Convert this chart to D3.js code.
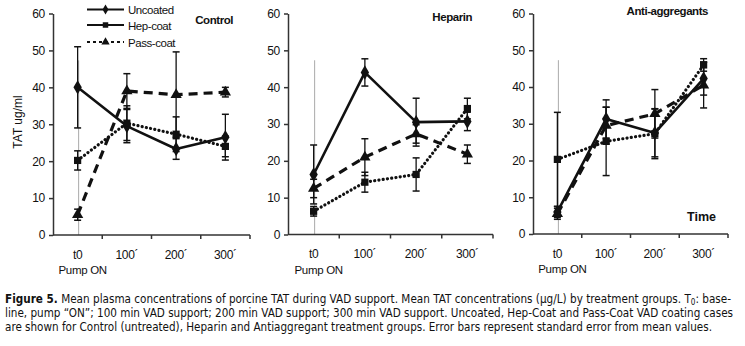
<!DOCTYPE html>
<html>
<head>
<meta charset="utf-8">
<script src="https://cdn.jsdelivr.net/npm/d3@7"></script>
<style>
  body { margin: 0; background: #fff; }
  text { font-family: "Liberation Sans", Arial, sans-serif; fill: #111; }
  .caption text { font-family: "DejaVu Sans Condensed", "DejaVu Sans", sans-serif; font-size: 11.5px; }
  .axis path, .axis line { stroke: #333; stroke-width: 1.5; }
  .axis text { font-size: 12px; font-family: "Liberation Sans", Arial, sans-serif; letter-spacing: -0.3px; }
  .tight { letter-spacing: -0.45px; }
</style>
</head>
<body>
<script>
// categories / labels
const categories = ["t0", "100´", "200´", "300´"]
const seriesNames = ["Uncoated", "Hep-coat", "Pass-coat"]
const panelTitles = ["Control", "Heparin", "Anti-aggregants"]
const yTicks = [0, 10, 20, 30, 40, 50, 60]

// mean values (TAT ug/ml)
const controlUncoated = [40, 29.5, 23.3, 26.5]
const controlUncoatedErr = [11, 4.5, 2.8, 6.2]
const controlHep = [20.2, 30.3, 27.3, 24]
const controlHepErr = [2.6, 4.7, 4.7, 2.8]
const controlPass = [5.5, 39, 38, 38.7]
const controlPassErr = [1.5, 4.7, 11.6, 1.3]

const heparinUncoated = [16.3, 44, 30.5, 30.7]
const heparinUncoatedErr = [8, 3.7, 6.5, 2.5]
const heparinHep = [6.3, 14.2, 16.3, 34.2]
const heparinHepErr = [1.3, 2.7, 4.5, 2.8]
const heparinPass = [12.5, 21, 27.3, 21.8]
const heparinPassErr = [2.5, 5, 2.5, 2.5]

const antiUncoated = [6, 31.3, 27.5, 42.3]
const antiUncoatedErr = [1.5, 5.2, 6.5, 4.5]
const antiHep = [20.3, 25.2, 27.3, 46]
const antiHepErr = [12.8, 9.3, 6.8, 1.7]
const antiPass = [5.5, 29.5, 32.7, 40.5]
const antiPassErr = [1.5, 5, 6.6, 6.2]

const captionLines = [
  ["Figure 5.", " Mean plasma concentrations of porcine TAT during VAD support. Mean TAT concentrations (µg/L) by treatment groups. T", "0", ": base-"],
  ["", "line, pump “ON”; 100 min VAD support; 200 min VAD support; 300 min VAD support. Uncoated, Hep-Coat and Pass-Coat VAD coating cases"],
  ["", "are shown for Control (untreated), Heparin and Antiaggregant treatment groups. Error bars represent standard error from mean values."]
]

let w = 745, h = 346
let svg = d3.select("body").append("svg").attr("width", w).attr("height", h)

// style per series
let styles = [
  { dash: null, width: 2.6, cap: "butt", symbol: d3.symbolDiamond, size: 60 },
  { dash: "0.1,4.2", width: 3.2, cap: "round", symbol: d3.symbolSquare, size: 52 },
  { dash: "9,6", width: 3.2, cap: "butt", symbol: d3.symbolTriangle, size: 55 }
]

let panels = [
  { x0: 53, x1: 250, yAxis: 235, title: panelTitles[0], tx: 233, ty: 24,
    series: [[controlUncoated, controlUncoatedErr], [controlHep, controlHepErr], [controlPass, controlPassErr]] },
  { x0: 288, x1: 493, yAxis: 234.5, title: panelTitles[1], tx: 472, ty: 21,
    series: [[heparinUncoated, heparinUncoatedErr], [heparinHep, heparinHepErr], [heparinPass, heparinPassErr]] },
  { x0: 533, x1: 728, yAxis: 234, title: panelTitles[2], tx: 708, ty: 15,
    series: [[antiUncoated, antiUncoatedErr], [antiHep, antiHepErr], [antiPass, antiPassErr]] }
]

panels.forEach((p, pi) => {
  let g = svg.append("g")
  let x = d3.scaleBand().domain(categories).range([p.x0, p.x1])
  let cx = c => x(c) + x.bandwidth() / 2
  let y = d3.scaleLinear().domain([0, 60]).range([p.yAxis, 13.5])

  // gray marker line at pump on
  g.append("line")
    .attr("x1", cx("t0") + 1).attr("x2", cx("t0") + 1)
    .attr("y1", y(0)).attr("y2", y(47.3))
    .attr("stroke", "#aaa").attr("stroke-width", 1)

  g.append("g").attr("class", "axis")
    .attr("transform", "translate(" + p.x0 + ",0)")
    .call(d3.axisLeft(y).tickValues(yTicks).tickSize(4).tickPadding(4).tickSizeOuter(0))

  let xa = g.append("g").attr("class", "axis")
    .attr("transform", "translate(0," + p.yAxis + ")")
    .call(d3.axisBottom(x).tickSize(0).tickPadding(15))
  xa.select(".domain").attr("d", "M" + p.x0 + ",0H" + p.x1)
  // ticks on band boundaries
  xa.selectAll(".bound").data(categories).enter().append("line")
    .attr("x1", d => x(d) + x.bandwidth()).attr("x2", d => x(d) + x.bandwidth())
    .attr("y1", 0).attr("y2", 4)
  xa.append("text").attr("x", cx("t0") + 5).attr("y", 39).attr("class", "tight")
    .attr("text-anchor", "middle").attr("fill", "#111").style("font-size", "11.5px").text("Pump ON")

  // error bars
  p.series.forEach((s, si) => {
    let vals = s[0], errs = s[1]
    vals.forEach((v, i) => {
      let xx = cx(categories[i])
      let lo = y(v - errs[i]), hi = y(v + errs[i])
      g.append("line").attr("x1", xx).attr("x2", xx).attr("y1", lo).attr("y2", hi)
        .attr("stroke", "#111").attr("stroke-width", 1.3)
      ;[lo, hi].forEach(yy => g.append("line")
        .attr("x1", xx - 3.5).attr("x2", xx + 3.5).attr("y1", yy).attr("y2", yy)
        .attr("stroke", "#111").attr("stroke-width", 1.5))
    })
  })

  // lines + markers
  p.series.forEach((s, si) => {
    let st = styles[si]
    let line = d3.line().x((d, i) => cx(categories[i])).y(d => y(d))
    g.append("path").datum(s[0])
      .attr("d", line).attr("fill", "none").attr("stroke", "#111")
      .attr("stroke-width", st.width).attr("stroke-dasharray", st.dash)
      .attr("stroke-linecap", st.cap).attr("stroke-linejoin", "round")
    g.selectAll(null).data(s[0]).enter().append("path")
      .attr("d", d3.symbol().type(st.symbol).size(st.size))
      .attr("transform", (d, i) => "translate(" + cx(categories[i]) + "," + y(d) + ")")
      .attr("fill", "#111")
  })

  g.append("text").attr("x", p.tx).attr("y", p.ty).attr("text-anchor", "end").attr("class", "tight")
    .style("font-size", "11.5px").style("font-weight", "bold").text(p.title)
})

// y label
svg.append("text").attr("transform", "translate(22,122) rotate(-90)")
  .attr("text-anchor", "middle").style("font-size", "12px").text("TAT ug/ml")

svg.append("text").attr("x", 716).attr("y", 221).attr("text-anchor", "end")
  .style("font-size", "12.5px").style("font-weight", "bold").text("Time")

// legend (drawn as in the source figure)
let legendStyles = [
  { dash: null, symbol: d3.symbolDiamond, size: 30 },
  { dash: null, symbol: d3.symbolSquare, size: 30 },
  { dash: "3,3", symbol: d3.symbolTriangle, size: 30 }
]
let legY = [9.5, 25, 42]
seriesNames.forEach((n, i) => {
  let lg = svg.append("g").attr("transform", "translate(0," + legY[i] + ")")
  lg.append("line").attr("x1", 87).attr("x2", 124).attr("y1", 0).attr("y2", 0)
    .attr("stroke", "#111").attr("stroke-width", 2).attr("stroke-dasharray", legendStyles[i].dash)
  lg.append("path").attr("d", d3.symbol().type(legendStyles[i].symbol).size(legendStyles[i].size)())
    .attr("transform", "translate(105.5,0)").attr("fill", "#111")
  lg.append("text").attr("x", 128).attr("y", 4.5).attr("class", "tight").style("font-size", "11.5px").text(n)
})

// caption
let cap = svg.append("g").attr("class", "caption")
let capY = [303, 317, 331]
let capLen = [726, 728, 707]
captionLines.forEach((l, i) => {
  let t = cap.append("text").attr("x", 5).attr("y", capY[i]).attr("textLength", capLen[i]).attr("lengthAdjust", "spacingAndGlyphs")
  if (l[0]) t.append("tspan").style("font-weight", "bold").text(l[0])
  t.append("tspan").text(l[1])
  if (l[2]) {
    t.append("tspan").attr("dy", 2).style("font-size", "8px").text(l[2])
    t.append("tspan").attr("dy", -2).text(l[3])
  }
})
</script>
</body>
</html>
